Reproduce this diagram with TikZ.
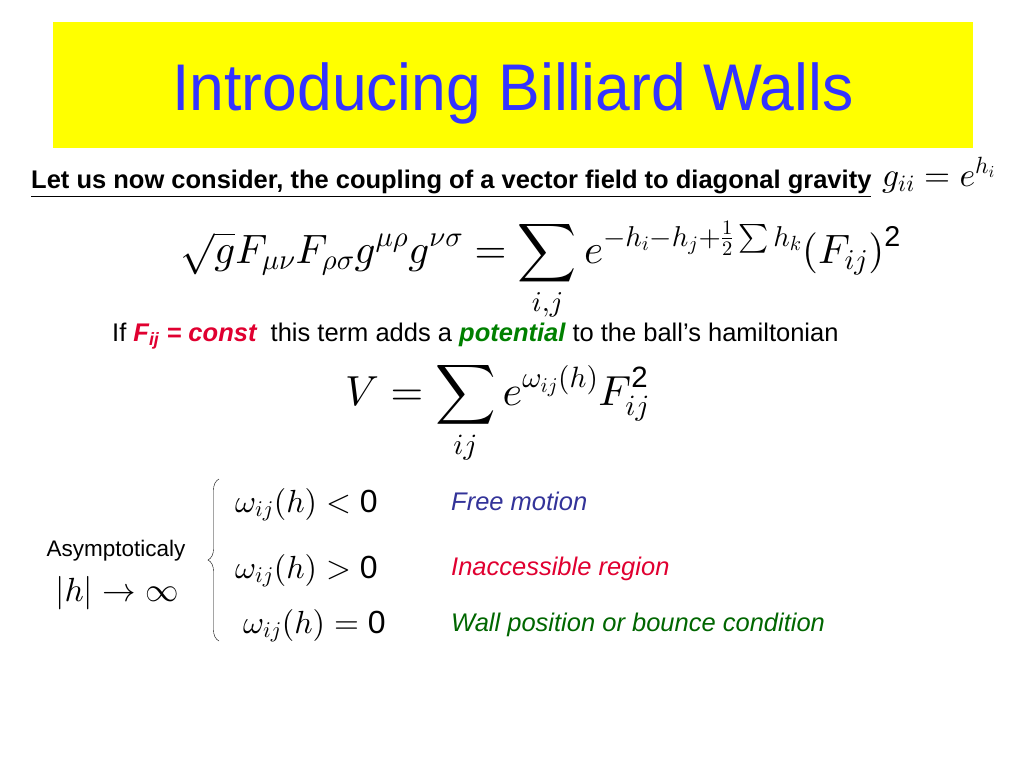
\documentclass[tikz,border=0pt]{standalone}
\usepackage{amsmath}
\usepackage{fontspec}
\setmainfont{Liberation Sans}
\DeclareFontShape{OML}{cmm}{m}{it}{<->cmmi10}{}
\DeclareFontShape{OMS}{cmsy}{m}{n}{<->cmsy10}{}
\DeclareFontShape{OMX}{cmex}{m}{n}{<->cmex10}{}
\DeclareFontShape{OT1}{cmr}{m}{n}{<->cmr10}{}
\usetikzlibrary{decorations.pathreplacing}
\definecolor{slideyellow}{RGB}{255,255,0}
\definecolor{titleblue}{RGB}{51,51,255}
\definecolor{constred}{RGB}{224,0,48}
\definecolor{potgreen}{RGB}{0,128,0}
\definecolor{freeblue}{RGB}{51,51,153}
\definecolor{wallgreen}{RGB}{0,102,0}
\begin{document}
\begin{tikzpicture}[x=1pt,y=-1pt,
  txt/.style={inner sep=0pt,anchor=base west},
  ctr/.style={inner sep=0pt,anchor=base},
  casemath/.style={txt,font=\fontsize{32}{36}\selectfont},
  casetext/.style={txt,font=\itshape\fontsize{25.5}{30}\selectfont}]
\useasboundingbox (0,0) rectangle (1024,768);
\fill[slideyellow] (53,22) rectangle (973,148);
\node (title) at (513,110)[ctr,text=titleblue,font=\fontsize{66}{70}\selectfont] {\scalebox{0.946}[1]{Introducing Billiard Walls}};
% coupling to gravity
\node (intro) at (31,188)[txt,font=\bfseries\fontsize{25.5}{30}\selectfont] {\underline{Let us now consider, the coupling of a vector field to diagonal gravity}};
\node (metric) at (882,186)[txt,font=\fontsize{33.5}{38}\selectfont] {$g_{ii}=e^{h_i}$};
\node (action) at (180,263)[txt,font=\fontsize{41}{46}\selectfont] {$\displaystyle\sqrt{g}F_{\mu\nu}F_{\rho\sigma}g^{\mu\rho}g^{\nu\sigma}=\sum_{i,j}e^{-h_i-h_j+\frac12\sum h_k}(F_{ij})^{\text{2}}$};
\node (cond) at (112,341)[txt,font=\fontsize{25.5}{30}\selectfont] {If \textcolor{constred}{\bfseries\itshape F\textsubscript{ij} = const}\ \ this term adds a \textcolor{potgreen}{\bfseries\itshape potential} to the ball’s hamiltonian};
\node (pot) at (345,405)[txt,font=\fontsize{42}{46}\selectfont] {$\displaystyle V=\sum_{ij}e^{\omega_{ij}(h)}F_{ij}^{\text{2}}$};
% asymptotic cases
\node (asym) at (116,556)[ctr,font=\fontsize{22.5}{26}\selectfont] {Asymptoticaly};
\node (limit) at (117,601)[ctr,font=\fontsize{33.5}{38}\selectfont] {$|h|\to\infty$};
\draw[thin,decoration={brace,amplitude=11pt},decorate] (219,641) -- (219,479);
\node (neg) at (235,512)[casemath] {$\omega_{ij}(h)<\text{0}$};
\node (pos) at (235,578)[casemath] {$\omega_{ij}(h)>\text{0}$};
\node (zero) at (243,633)[casemath] {$\omega_{ij}(h)=\text{0}$};
\node (free) at (451,510)[casetext,text=freeblue] {Free motion};
\node (inacc) at (451,575)[casetext,text=constred] {Inaccessible region};
\node (wall) at (451,631)[casetext,text=wallgreen] {Wall position or bounce condition};
\end{tikzpicture}
\end{document}
